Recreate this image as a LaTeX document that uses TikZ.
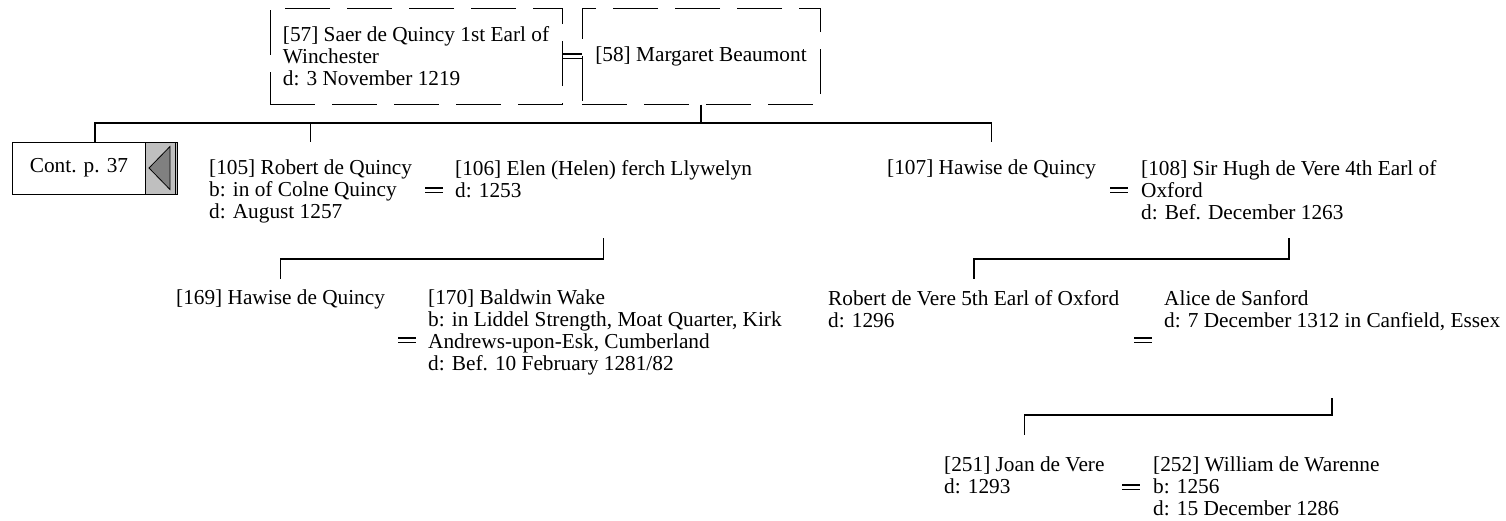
\documentclass[tikz,border=0pt]{standalone}
\usepackage{fontspec}
\setmainfont{Liberation Serif}
\usetikzlibrary{calc}
\newcommand\pfont{\fontsize{21.3}{22}\selectfont}

\begin{document}
\begin{tikzpicture}[x=1pt, y=-1pt,
    person/.style={anchor=north west, align=left, inner sep=0pt, font=\pfont},
    pbox/.style={draw, dash pattern=on 45pt off 17pt, line width=1pt, align=left,
      inner sep=0pt, font=\pfont, minimum height=96pt},
    fam/.style={line width=1.6pt},
    wed/.style={double, double distance=3pt, line width=1.4pt}]
  \useasboundingbox (0,0) rectangle (1506,520);
  %--- Parents
  \node[pbox, minimum width=292pt] (b57) at (416,56)
    {[57] Saer de Quincy 1st Earl of\\Winchester\\d: 3 November 1219};
  \node[pbox, minimum width=238pt] (b58) at (701,56) {[58] Margaret Beaumont};
  \draw[wed] (b57.east) -- (b58.west);
  %--- Continuation box
  \node[draw, line width=1pt, minimum width=165pt, minimum height=52pt, inner sep=0pt] (cont) at (95,168) {};
  \node[font=\pfont, inner sep=0pt] (contlbl) at (79,168) {Cont. p. 37};
  \node[draw, line width=1pt, fill=gray!50, minimum width=32pt, minimum height=52pt, anchor=east] (contarr) at (cont.east) {};
  \draw[line width=1pt] ($(contarr.north east)+(-3,1)$) -- ($(contarr.south east)+(-3,-1)$);
  \draw[fill=gray, line width=0.8pt] ($(contarr.west)+(4,0)$) -- ($(contarr.north east)+(-8,5)$)
    -- ($(contarr.south east)+(-8,-5)$) -- cycle;
  %--- Children
  \node[person] (n105) at (209,160) {[105] Robert de Quincy\\b: in of Colne Quincy\\d: August 1257};
  \node[person] (n106) at (455,160) {[106] Elen (Helen) ferch Llywelyn\\d: 1253};
  \node[person] (n107) at (887,160) {[107] Hawise de Quincy};
  \node[person] (n108) at (1141,160) {[108] Sir Hugh de Vere 4th Earl of\\Oxford\\d: Bef. December 1263};
  %--- Grandchildren
  \node[person] (n169) at (176,290) {[169] Hawise de Quincy};
  \node[person] (n170) at (428,290) {[170] Baldwin Wake\\b: in Liddel Strength, Moat Quarter, Kirk\\Andrews-upon-Esk, Cumberland\\d: Bef. 10 February 1281/82};
  \node[person] (nrv) at (828,290) {Robert de Vere 5th Earl of Oxford\\d: 1296};
  \node[person] (nal) at (1164,290) {Alice de Sanford\\d: 7 December 1312 in Canfield, Essex};
  \node[person] (n251) at (944,457) {[251] Joan de Vere\\d: 1293};
  \node[person] (n252) at (1153,457) {[252] William de Warenne\\b: 1256\\d: 15 December 1286};
  %--- Marriage marks
  \foreach \x/\y in {434/190, 1119/190, 407/340, 1143/340, 1131/487}
    \draw[wed] (\x-9,\y) -- (\x+9,\y);
  %--- Line levels
  \coordinate (y1) at (0,123);
  \coordinate (y2) at (0,142);
  \coordinate (y3) at (0,238);
  \coordinate (y4) at (0,259);
  \coordinate (y5) at (0,279);
  \coordinate (y6) at (0,398);
  \coordinate (y7) at (0,415);
  \coordinate (y8) at (0,435);
  %--- Descent lines
  \draw[fam] (b58.south) -- (b58.south |- y1);
  \draw[fam] (cont.north) -- (cont.north |- y1) -- (n107.north |- y1) -- (n107.north |- y2);
  \draw[fam] (n105.north |- y1) -- (n105.north |- y2);
  \draw[fam] (n106.north |- y3) -- (n106.north |- y4) -- (n169.north |- y4) -- (n169.north |- y5);
  \draw[fam] (n108.north |- y3) -- (n108.north |- y4) -- (nrv.north |- y4) -- (nrv.north |- y5);
  \draw[fam] (nal.north |- y6) -- (nal.north |- y7) -- (n251.north |- y7) -- (n251.north |- y8);
\end{tikzpicture}
\end{document}
